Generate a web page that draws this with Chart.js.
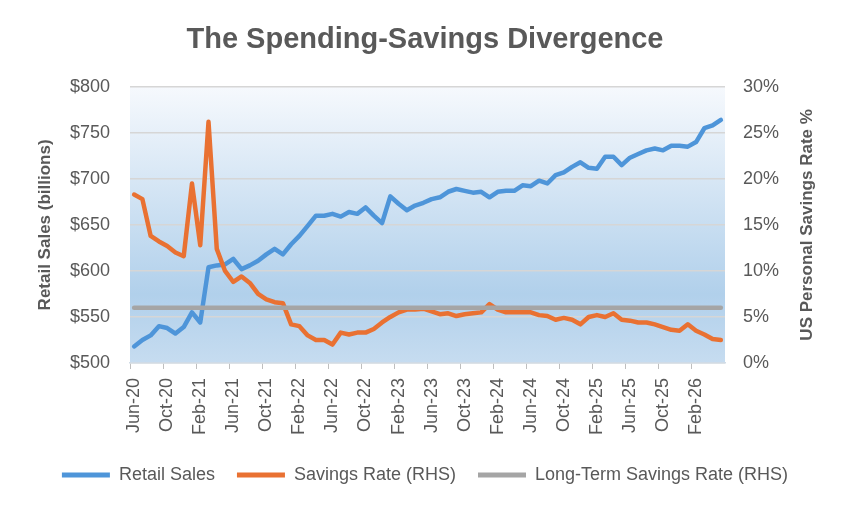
<!DOCTYPE html>
<html>
<head>
<meta charset="utf-8">
<script src="https://cdn.jsdelivr.net/npm/chart.js@4/dist/chart.umd.min.js"></script>
<style>
  body { margin: 0; background: #ffffff; }
  #wrap { width: 850px; height: 510px; }
</style>
</head>
<body>
<div id="wrap"><canvas id="myChart" width="850" height="510"></canvas></div>
<script>
var months = [
  'Jun-20','Jul-20','Aug-20','Sep-20','Oct-20','Nov-20','Dec-20',
  'Jan-21','Feb-21','Mar-21','Apr-21','May-21','Jun-21','Jul-21','Aug-21','Sep-21','Oct-21','Nov-21','Dec-21',
  'Jan-22','Feb-22','Mar-22','Apr-22','May-22','Jun-22','Jul-22','Aug-22','Sep-22','Oct-22','Nov-22','Dec-22',
  'Jan-23','Feb-23','Mar-23','Apr-23','May-23','Jun-23','Jul-23','Aug-23','Sep-23','Oct-23','Nov-23','Dec-23',
  'Jan-24','Feb-24','Mar-24','Apr-24','May-24','Jun-24','Jul-24','Aug-24','Sep-24','Oct-24','Nov-24','Dec-24',
  'Jan-25','Feb-25','Mar-25','Apr-25','May-25','Jun-25','Jul-25','Aug-25','Sep-25','Oct-25','Nov-25','Dec-25',
  'Jan-26','Feb-26','Mar-26','Apr-26','May-26'
];

// retail sales, $ billions
var retailSales = [
  518, 525, 530, 540, 538, 532, 539, 555, 544, 604, 606, 607,
  613, 602, 606, 611, 618, 624, 618, 629, 638, 649, 660, 660,
  662, 659, 664, 662, 669, 660, 652, 681, 673, 666, 671, 674,
  678, 680, 686, 689, 687, 685, 686, 680, 686, 687, 687, 693,
  692, 698, 695, 704, 707, 713, 718, 712, 711, 724, 724, 715,
  723, 727, 731, 733, 731, 736, 736, 735, 740, 755, 758, 764
];

// personal savings rate, %
var savingsRate = [
  18.3, 17.8, 13.8, 13.2, 12.7, 12.0, 11.6, 19.5, 12.8, 26.2, 12.4, 10.0,
  8.8, 9.4, 8.7, 7.5, 6.9, 6.6, 6.5, 4.2, 4.0, 3.0, 2.5, 2.5,
  2.0, 3.3, 3.1, 3.3, 3.3, 3.7, 4.4, 5.0, 5.5, 5.8, 5.8, 5.9,
  5.6, 5.3, 5.4, 5.1, 5.3, 5.4, 5.5, 6.4, 5.8, 5.5, 5.5, 5.5,
  5.5, 5.2, 5.1, 4.7, 4.9, 4.7, 4.2, 5.0, 5.2, 5.0, 5.4, 4.7,
  4.6, 4.4, 4.4, 4.2, 3.9, 3.6, 3.5, 4.2, 3.5, 3.1, 2.6, 2.5
];

// long-term average savings rate, %
var longTermRate = [
  6, 6, 6, 6, 6, 6, 6, 6, 6, 6, 6, 6,
  6, 6, 6, 6, 6, 6, 6, 6, 6, 6, 6, 6,
  6, 6, 6, 6, 6, 6, 6, 6, 6, 6, 6, 6,
  6, 6, 6, 6, 6, 6, 6, 6, 6, 6, 6, 6,
  6, 6, 6, 6, 6, 6, 6, 6, 6, 6, 6, 6,
  6, 6, 6, 6, 6, 6, 6, 6, 6, 6, 6, 6
];

var textGrey = '#595959';
Chart.defaults.font.family = "'Liberation Sans', Arial, sans-serif";
Chart.defaults.color = textGrey;

// plot area gradient fill + right axis title reading upward
var plotBackground = {
  id: 'plotBackground',
  beforeDraw: function(chart) {
    var a = chart.chartArea, c = chart.ctx;
    var g = c.createLinearGradient(0, a.top, 0, a.bottom);
    g.addColorStop(0, '#f6f9fd');
    g.addColorStop(0.75, '#b1d0eb');
    g.addColorStop(1, '#c6dcf0');
    c.save();
    c.fillStyle = g;
    c.fillRect(a.left, a.top, a.right - a.left, a.bottom - a.top);
    c.restore();
  },
  afterDraw: function(chart) {
    var a = chart.chartArea, c = chart.ctx;
    c.save();
    c.translate(807, (a.top + a.bottom) / 2);
    c.rotate(-Math.PI / 2);
    c.font = "bold 17px 'Liberation Sans', Arial, sans-serif";
    c.fillStyle = textGrey;
    c.textAlign = 'center';
    c.textBaseline = 'middle';
    c.fillText('US Personal Savings Rate %', 0, 0);
    c.restore();
  }
};

var ctx = document.getElementById('myChart').getContext('2d');
var myChart = new Chart(ctx, {
  type: 'line',
  data: {
    labels: months,
    datasets: [{
      label: 'Retail Sales',
      data: retailSales,
      yAxisID: 'y',
      borderColor: '#4e95d9',
      backgroundColor: '#4e95d9',
      order: 3
    }, {
      label: 'Savings Rate (RHS)',
      data: savingsRate,
      yAxisID: 'y1',
      borderColor: '#e97132',
      backgroundColor: '#e97132',
      order: 2
    }, {
      label: 'Long-Term Savings Rate (RHS)',
      data: longTermRate,
      yAxisID: 'y1',
      borderColor: '#a5a5a5',
      backgroundColor: '#a5a5a5',
      order: 1
    }]
  },
  options: {
    responsive: false,
    animation: false,
    layout: { padding: { left: 0, right: 0, top: 0, bottom: 16 } },
    elements: {
      line: { borderWidth: 4.5, tension: 0, borderCapStyle: 'round', borderJoinStyle: 'round' },
      point: { radius: 0 }
    },
    plugins: {
      title: {
        display: true,
        text: 'The Spending-Savings Divergence',
        color: textGrey,
        font: { size: 29, weight: 'bold' },
        padding: { top: 23, bottom: 29 }
      },
      legend: {
        position: 'bottom',
        labels: {
          boxWidth: 48,
          boxHeight: 5,
          padding: 22,
          color: textGrey,
          font: { size: 18 },
          sort: function(a, b) { return a.datasetIndex - b.datasetIndex; },
          generateLabels: function(chart) {
            return Chart.defaults.plugins.legend.labels.generateLabels(chart).map(function(l) {
              l.lineWidth = 0;
              return l;
            });
          }
        }
      },
      tooltip: { enabled: false }
    },
    scales: {
      x: {
        offset: true,
        afterFit: function(scale) { scale.height = 81; },
        grid: {
          offset: true,
          drawOnChartArea: false,
          drawTicks: true,
          tickLength: 6,
          color: function(c) { return c.index % 4 === 0 ? '#bfbfbf' : 'rgba(0,0,0,0)'; }
        },
        border: { display: true, color: '#d0dbe6', width: 1.5 },
        ticks: {
          autoSkip: false,
          minRotation: 90,
          maxRotation: 90,
          padding: 9,
          font: { size: 18 },
          color: textGrey,
          callback: function(v, i) { return i % 4 === 0 ? this.getLabelForValue(v) : ''; }
        }
      },
      y: {
        position: 'left',
        min: 500,
        max: 800,
        afterFit: function(scale) { scale.width = 130; },
        grid: { color: '#d6d6d6', lineWidth: 1.5, drawTicks: false },
        border: { display: false },
        ticks: {
          stepSize: 50,
          padding: 20,
          font: { size: 18 },
          color: textGrey,
          callback: function(v) { return '$' + v; }
        },
        title: {
          display: true,
          text: 'Retail Sales (billions)',
          color: textGrey,
          font: { size: 17, weight: 'bold' },
          padding: { top: 35, bottom: 0 }
        }
      },
      y1: {
        position: 'right',
        min: 0,
        max: 30,
        afterFit: function(scale) { scale.width = 125; },
        grid: { drawOnChartArea: false, drawTicks: false },
        border: { display: false },
        ticks: {
          stepSize: 5,
          padding: 18,
          font: { size: 18 },
          color: textGrey,
          callback: function(v) { return v + '%'; }
        }
      }
    }
  },
  plugins: [plotBackground]
});
</script>
</body>
</html>
